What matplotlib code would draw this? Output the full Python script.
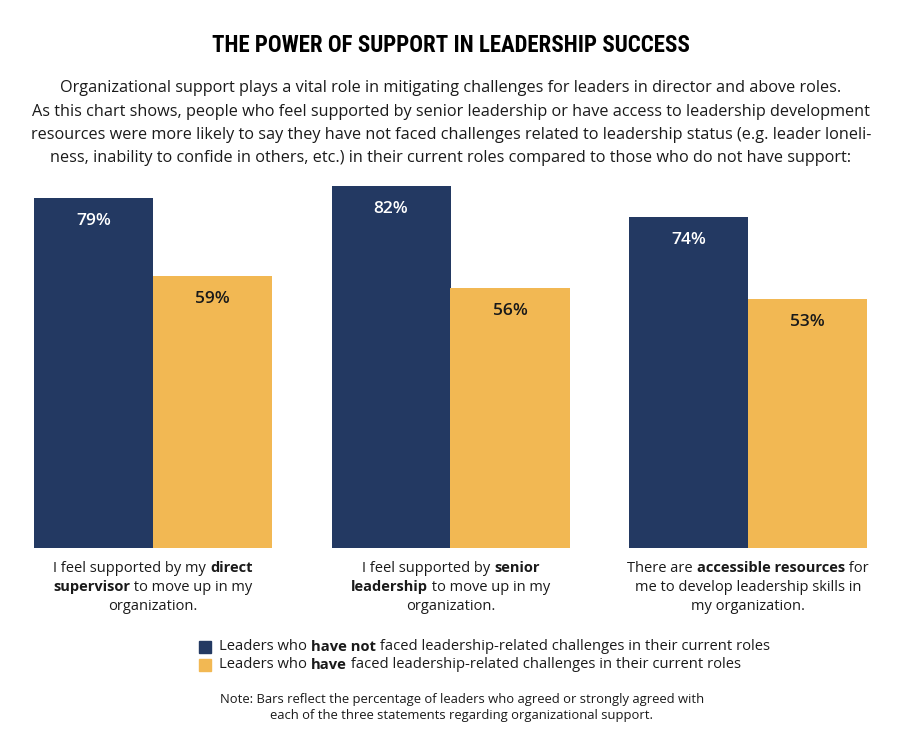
import matplotlib.pyplot as plt
import numpy as np
from matplotlib.patches import Rectangle

# data
groups = ['direct supervisor', 'senior leadership', 'accessible resources']
not_faced = [79, 82, 74]
faced = [59, 56, 53]

# category captions, one list of (text, weight) pieces per line
captions = [
    [[('I feel supported by my ', 'normal'), ('direct', 'bold')],
     [('supervisor', 'bold'), (' to move up in my', 'normal')],
     [('organization.', 'normal')]],
    [[('I feel supported by ', 'normal'), ('senior', 'bold')],
     [('leadership', 'bold'), (' to move up in my', 'normal')],
     [('organization.', 'normal')]],
    [[('There are ', 'normal'), ('accessible resources', 'bold'), (' for', 'normal')],
     [('me to develop leadership skills in', 'normal')],
     [('my organization.', 'normal')]],
]
legend_lines = [
    [('Leaders who ', 'normal'), ('have not', 'bold'),
     (' faced leadership-related challenges in their current roles', 'normal')],
    [('Leaders who ', 'normal'), ('have', 'bold'),
     (' faced leadership-related challenges in their current roles', 'normal')],
]
title = 'THE POWER OF SUPPORT IN LEADERSHIP SUCCESS'
intro = ['Organizational support plays a vital role in mitigating challenges for leaders in director and above roles.',
         'As this chart shows, people who feel supported by senior leadership or have access to leadership development',
         'resources were more likely to say they have not faced challenges related to leadership status (e.g. leader loneli-',
         'ness, inability to confide in others, etc.) in their current roles compared to those who do not have support:']
note = ['Note: Bars reflect the percentage of leaders who agreed or strongly agreed with',
        'each of the three statements regarding organizational support.']

NAVY = '#233962'
GOLD = '#F2B853'
INK = '#1a1a1a'
BODY = ['Open Sans', 'DejaVu Sans']

W, H = 902, 750
fig = plt.figure(figsize=(W / 100, H / 100), dpi=100)
renderer = fig.canvas.get_renderer()


def fx(px):
    return px / W


def fy(py):
    return 1 - py / H


def rich_line(x, y, parts, size, ha='center'):
    arts = []
    for s, w in parts:
        t = fig.text(0, fy(y), s, fontsize=size, fontweight=w, family=BODY,
                     color=INK, va='center', ha='left')
        arts.append(t)
    widths = [t.get_window_extent(renderer).width for t in arts]
    start = x - sum(widths) / 2 if ha == 'center' else x
    for t, w in zip(arts, widths):
        t.set_x(fx(start))
        start += w


# axes placed so the bars land where they are in the picture
base = -10.8
ax = fig.add_axes([fx(4.25), fy(548), fx(892.5), fy(150) - fy(548)])
ax.set_xlim(-0.5, 2.5)
ax.set_ylim(base, 91.3)
ax.axis('off')

x = np.arange(len(groups))
nf = np.array(not_faced)
fa = np.array(faced)
ax.bar(x - 0.2, nf - base, bottom=base, width=0.4, color=NAVY)
ax.bar(x + 0.2, fa - base, bottom=base, width=0.4, color=GOLD)
for i in range(len(groups)):
    ax.annotate('{}%'.format(not_faced[i]), xy=(x[i] - 0.2, not_faced[i]), xytext=(0, -16.5),
                textcoords='offset points', ha='center', va='center', color='white',
                fontsize=12.5, fontweight='semibold', family=BODY)
    ax.annotate('{}%'.format(faced[i]), xy=(x[i] + 0.2, faced[i]), xytext=(0, -16.5),
                textcoords='offset points', ha='center', va='center', color=INK,
                fontsize=12.5, fontweight='semibold', family=BODY)

# headings
fig.text(0.5, fy(45), title, ha='center', va='center', fontsize=16.5, fontweight='bold',
         family=['Roboto Condensed', 'Roboto', 'DejaVu Sans'], color='black')
for i, line in enumerate(intro):
    fig.text(0.5, fy(88 + i * 23.5), line, ha='center', va='center', fontsize=11.7,
             family=BODY, color=INK)

# captions under each group
centers = [153, 451, 748]
for c, cap in zip(centers, captions):
    for j, line in enumerate(cap):
        rich_line(c, 568 + j * 19.5, line, 10.5)

# legend
for j, (line, col) in enumerate(zip(legend_lines, [NAVY, GOLD])):
    y = 647 + j * 18
    fig.patches.append(Rectangle((fx(199), fy(y + 6)), fx(12), fy(y - 6) - fy(y + 6),
                                 transform=fig.transFigure, color=col))
    rich_line(219, y, line, 10.6, ha='left')

for j, line in enumerate(note):
    fig.text(fx(462), fy(699 + j * 17), line, ha='center', va='center', fontsize=9.4,
             family=BODY, color=INK)

plt.savefig('out.png', dpi=100)
